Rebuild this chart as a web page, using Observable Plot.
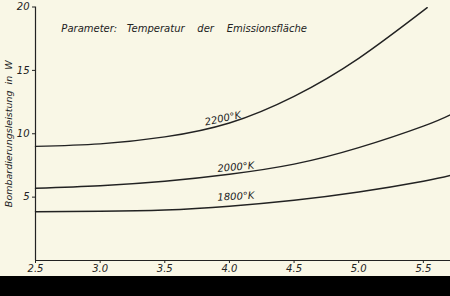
<!DOCTYPE html>
<html>
<head>
<meta charset="utf-8">
<script src="https://cdn.jsdelivr.net/npm/d3@7"></script>
<script src="https://cdn.jsdelivr.net/npm/@observablehq/plot@0.6"></script>
<style>
  html, body { margin: 0; padding: 0; background: #000; }
  #wrap { width: 450px; height: 296px; overflow: hidden; background: #000; }
  #chart { width: 450px; height: 276px; background: #f9f7e6; }
  #bar { width: 450px; height: 20px; background: #000; }
</style>
</head>
<body>
<div id="wrap"><div id="chart"></div><div id="bar"></div></div>
<script>
// Spannung (x) and Bombardierungsleistung (y)
const xs1800 = [2.5, 3.0, 3.5, 4.0, 4.5, 5.0, 5.5, 5.71];
const ys1800 = [3.85, 3.88, 3.98, 4.28, 4.75, 5.4, 6.25, 6.71];
const xs2000 = [2.5, 3.0, 3.5, 4.0, 4.5, 5.0, 5.5, 5.71];
const ys2000 = [5.7, 5.9, 6.25, 6.8, 7.6, 8.9, 10.6, 11.5];
const xs2200 = [2.5, 3.0, 3.5, 4.0, 4.5, 5.0, 5.53];
const ys2200 = [9.0, 9.2, 9.75, 10.85, 12.95, 15.95, 19.95];

const seriesNames = ["1800°K", "2000°K", "2200°K"];
const xTicks = [2.5, 3.0, 3.5, 4.0, 4.5, 5.0, 5.5];
const xTickLabels = ["2.5", "3.0", "3.5", "4.0", "4.5", "5.0", "5.5"];
const yTicks = [5, 10, 15, 20];
const titleText = "Parameter:   Temperatur    der    Emissionsfläche";
const yLabel = "Bombardierungsleistung  in  W";

// curve label anchors (data coordinates)
const labelX = [4.05, 4.05, 3.95];
const labelY = [5.05, 7.37, 11.2];
const labelRot = [-3, -5, -12];

const table = [];
[[xs1800, ys1800], [xs2000, ys2000], [xs2200, ys2200]].forEach(([xs, ys], i) => {
  xs.forEach((x, j) => table.push({series: seriesNames[i], x, y: ys[j]}));
});
const labels = seriesNames.map((s, i) => ({s, x: labelX[i], y: labelY[i], r: labelRot[i]}));

const ink = "#222";
const plot = Plot.plot({
  width: 450,
  height: 276,
  marginLeft: 35,
  marginRight: 0,
  marginTop: 6.5,
  marginBottom: 16,
  style: {background: "transparent", fontFamily: "DejaVu Sans", fontStyle: "italic", fontSize: "10px", color: ink},
  x: {domain: [2.5, 5.71]},
  y: {domain: [0, 20]},
  marks: [
    Plot.ruleX([2.5], {y1: 0, y2: 20, stroke: ink, strokeWidth: 1.2}),
    Plot.ruleY([0], {stroke: ink, strokeWidth: 1.2}),
    Plot.axisX({ticks: xTicks, tickFormat: (d, i) => xTickLabels[i], tickSize: 3, tickPadding: 1, label: null, stroke: ink, fill: ink}),
    Plot.axisY({ticks: yTicks, tickSize: 3, tickPadding: 3, label: null, stroke: ink, fill: ink}),
    Plot.line(table, {x: "x", y: "y", z: "series", curve: "natural", stroke: ink, strokeWidth: 1.4}),
    Plot.text(labels, {x: "x", y: "y", text: "s", rotate: "r", fill: ink, fontSize: 10, fontStyle: "italic"}),
    Plot.text([titleText], {x: 2.70, y: 18.3, text: d => d, textAnchor: "start", fill: ink, fontSize: 10, fontStyle: "italic"}),
    Plot.text([yLabel], {x: 2.5, y: 10.0, dx: -27, text: d => d, textAnchor: "middle", rotate: -90, fill: ink, fontSize: 9.5, fontStyle: "italic"})
  ]
});
document.getElementById("chart").appendChild(plot);
</script>
</body>
</html>
